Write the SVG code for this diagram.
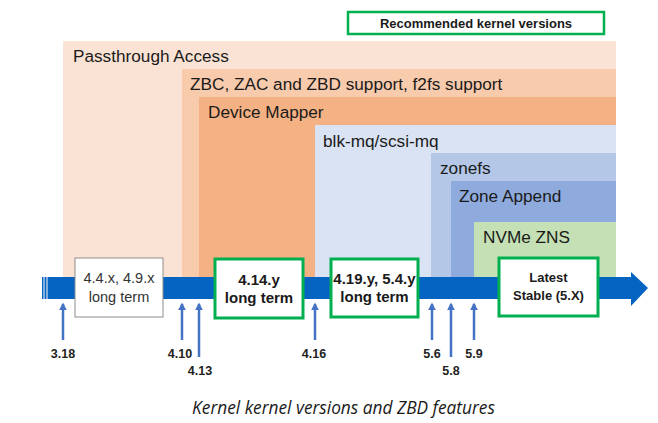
<svg xmlns="http://www.w3.org/2000/svg" width="658" height="423" viewBox="0 0 658 423">
<style>
.lbl{font-family:"Liberation Sans",Arial,sans-serif;font-size:17.2px;fill:#1a1a1a}
.ver{font-family:"Liberation Sans",Arial,sans-serif;font-size:12.5px;font-weight:bold;fill:#222;text-anchor:middle}
.box{fill:#fff;stroke:#00b050;stroke-width:3}
.bt{font-family:"Liberation Sans",Arial,sans-serif;font-size:15px;font-weight:bold;fill:#1a1a1a;text-anchor:middle}
.up{stroke:#4472c4;stroke-width:2.5;fill:none;marker-end:url(#ah)}
</style>
<defs>
<marker id="ah" viewBox="0 0 10 10" refX="8" refY="5" markerWidth="3.2" markerHeight="3.2" orient="auto" markerUnits="strokeWidth">
<path d="M0,0 L10,5 L0,10 z" fill="#4472c4"/>
</marker>
</defs>
<rect width="658" height="423" fill="#fff"/>
<g id="recommended">
<rect x="348" y="12" width="256" height="22" fill="#fff" stroke="#00b050" stroke-width="2.5"/>
<text x="476" y="27.5" font-family="Liberation Sans,Arial,sans-serif" font-size="13" font-weight="bold" text-anchor="middle" fill="#1a1a1a">Recommended kernel versions</text>
</g>
<g id="passthrough"><rect x="63" y="41" width="553" height="236" fill="#fae3d5"/><text class="lbl" x="73" y="62">Passthrough Access</text></g>
<g id="zbc"><rect x="182" y="69" width="434" height="208" fill="#f8cbad"/><text class="lbl" x="190" y="90">ZBC, ZAC and ZBD support, f2fs support</text></g>
<g id="dm"><rect x="199" y="97" width="417" height="180" fill="#f4b183"/><text class="lbl" x="208" y="118">Device Mapper</text></g>
<g id="blkmq"><rect x="315" y="125" width="301" height="152" fill="#dae3f3"/><text class="lbl" x="323" y="147">blk-mq/scsi-mq</text></g>
<g id="zonefs"><rect x="431" y="153" width="185" height="124" fill="#b4c7e7"/><text class="lbl" x="440" y="174">zonefs</text></g>
<g id="zoneappend"><rect x="451" y="181" width="165" height="96" fill="#8faadc"/><text class="lbl" x="459" y="202">Zone Append</text></g>
<g id="nvmezns"><rect x="474" y="222" width="142" height="55" fill="#c5e0b4"/><text class="lbl" x="483" y="243">NVMe ZNS</text></g>
<g id="timeline">
<rect x="48" y="277" width="584" height="22" fill="#0563c1"/>
<rect x="42" y="277" width="1.5" height="22" fill="#0563c1"/>
<rect x="44.5" y="277" width="1.5" height="22" fill="#0563c1"/>
<rect x="46.5" y="277" width="1" height="22" fill="#0563c1"/>
<polygon points="631,272 648,288 631,306" fill="#0563c1"/>
</g>
<g id="lts44">
<rect x="75" y="258" width="88" height="59" fill="#fff" stroke="#8c8c8c" stroke-width="1"/>
<text x="119" y="283" font-family="Liberation Sans,Arial,sans-serif" font-size="14.5" text-anchor="middle" fill="#333">4.4.x, 4.9.x</text>
<text x="119" y="302" font-family="Liberation Sans,Arial,sans-serif" font-size="14.5" text-anchor="middle" fill="#333">long term</text>
</g>
<g id="lts414">
<rect class="box" x="215" y="259" width="88" height="59"/>
<text class="bt" x="259" y="285">4.14.y</text>
<text class="bt" x="259" y="303">long term</text>
</g>
<g id="lts419">
<rect class="box" x="331" y="259" width="87" height="58"/>
<text class="bt" x="374.5" y="284">4.19.y, 5.4.y</text>
<text class="bt" x="374.5" y="302">long term</text>
</g>
<g id="latest">
<rect class="box" x="499" y="258" width="99" height="58"/>
<text x="548.5" y="282" font-family="Liberation Sans,Arial,sans-serif" font-size="13" font-weight="bold" text-anchor="middle" fill="#1a1a1a">Latest</text>
<text x="548.5" y="300" font-family="Liberation Sans,Arial,sans-serif" font-size="13" font-weight="bold" text-anchor="middle" fill="#1a1a1a">Stable (5.X)</text>
</g>
<g id="connectors">
<line class="up" x1="63" y1="340" x2="63" y2="304"/>
<line class="up" x1="182" y1="340" x2="182" y2="304"/>
<line class="up" x1="199" y1="357" x2="199" y2="304"/>
<line class="up" x1="315" y1="340" x2="315" y2="304"/>
<line class="up" x1="432" y1="340" x2="432" y2="304"/>
<line class="up" x1="451" y1="357" x2="451" y2="304"/>
<line class="up" x1="474" y1="340" x2="474" y2="304"/>
</g>
<g id="versions">
<text class="ver" x="63" y="358">3.18</text>
<text class="ver" x="180" y="358">4.10</text>
<text class="ver" x="200" y="375">4.13</text>
<text class="ver" x="314" y="358">4.16</text>
<text class="ver" x="432" y="358">5.6</text>
<text class="ver" x="451" y="375">5.8</text>
<text class="ver" x="474" y="358">5.9</text>
</g>
<text x="343.5" y="414" font-family="Open Sans,Noto Sans,sans-serif" font-size="17.3" font-style="italic" text-anchor="middle" fill="#1a1a1a">Kernel kernel versions and ZBD features</text>
</svg>
